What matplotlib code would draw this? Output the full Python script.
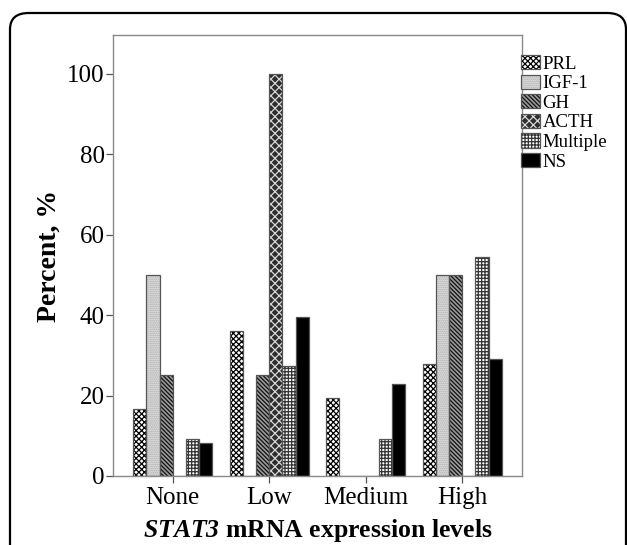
import matplotlib
matplotlib.use("Agg")
import matplotlib.pyplot as plt
import numpy as np
from matplotlib.patches import Patch, FancyBboxPatch
from matplotlib.legend_handler import HandlerTuple

categories = ["None", "Low", "Medium", "High"]
series = ["PRL", "IGF-1", "GH", "ACTH", "Multiple", "NS"]
prl = [16.7, 36.1, 19.4, 27.8]
igf1 = [50.0, 0.0, 0.0, 50.0]
gh = [25.0, 25.0, 0.0, 50.0]
acth = [0.0, 100.0, 0.0, 0.0]
multiple = [9.1, 27.3, 9.1, 54.5]
ns = [8.3, 39.5, 23.0, 29.2]
yticks = [0, 20, 40, 60, 80, 100]

values = [prl, igf1, gh, acth, multiple, ns]

plt.rcParams['font.family'] = ['Liberation Serif', 'DejaVu Serif']
plt.rcParams['mathtext.fontset'] = 'custom'
plt.rcParams['mathtext.rm'] = 'Liberation Serif'
plt.rcParams['mathtext.it'] = 'Liberation Serif:italic'
plt.rcParams['mathtext.bf'] = 'Liberation Serif:bold'
plt.rcParams['mathtext.bfit'] = 'Liberation Serif:italic:bold'
plt.rcParams['hatch.linewidth'] = 0.9

fig = plt.figure(figsize=(6.27, 5.45), dpi=100)
ax = fig.add_axes([113/627, 1-476/545, (522-113)/627, (476-35)/545])

# styles: facecolor, hatch, hatch colour
styles = [
    dict(fc="white", hatch="xxxxxx", hc="black"),
    dict(fc="#e4e4e4", hatch="........", hc="#a8a8a8"),
    dict(fc="#9a9a9a", hatch="\\" * 8, hc="#111111"),
    dict(fc="#2e2e2e", hatch="xxxx", hc="#d8d8d8"),
    dict(fc="white", hatch="+" * 5, hc="#333333"),
    dict(fc="black", hatch=None, hc="black"),
]
outline = "#555555"

x = np.arange(len(categories))
w = 0.137
n = len(series)
handles = []
for i, (vals, st) in enumerate(zip(values, styles)):
    pos = x + (i - (n - 1) / 2) * w
    ax.bar(pos, vals, w, color=st["fc"], edgecolor=st["hc"], hatch=st["hatch"],
           linewidth=0, zorder=2)
    ax.bar(pos, vals, w, fill=False, edgecolor=outline, linewidth=0.9, zorder=3)
    h1 = Patch(facecolor=st["fc"], edgecolor=st["hc"], hatch=st["hatch"], linewidth=0)
    h2 = Patch(fill=False, edgecolor=outline, linewidth=0.9)
    handles.append((h1, h2))

ax.set_xlim(-0.62, 3.62)
ax.set_ylim(0, 109.7)
ax.set_yticks(yticks)
ax.set_xticks(x)
ax.set_xticklabels(categories)
ax.tick_params(axis='both', labelsize=18, color="#555555", length=5, width=0.9)
ax.tick_params(axis='x', pad=3)
ax.tick_params(axis='y', pad=1)
for s in ax.spines.values():
    s.set_color("#8a8a8a")
    s.set_linewidth(1.0)

ax.set_ylabel("Percent, %", fontsize=20, fontweight="bold", labelpad=4)
ax.set_xlabel(r"$\mathbfit{STAT3}$ mRNA expression levels", fontsize=18.5,
              fontweight="bold", labelpad=6)

leg = fig.legend(handles, series, handler_map={tuple: HandlerTuple(ndivide=1, pad=0)},
                 loc="upper left", bbox_to_anchor=(521/627, 1-55/545), frameon=False,
                 fontsize=13.5, handlelength=1.0, handleheight=0.8, handletextpad=0.15,
                 labelspacing=0.1, borderpad=0, borderaxespad=0)

frame = FancyBboxPatch((10/627, -0.2), (626-10)/627, 1.2 - 13/545,
                       boxstyle="round,pad=0,rounding_size=0.03",
                       transform=fig.transFigure, fill=False, edgecolor="black",
                       linewidth=1.6, clip_on=False)
fig.patches.append(frame)

fig.savefig("out.png", dpi=100)
